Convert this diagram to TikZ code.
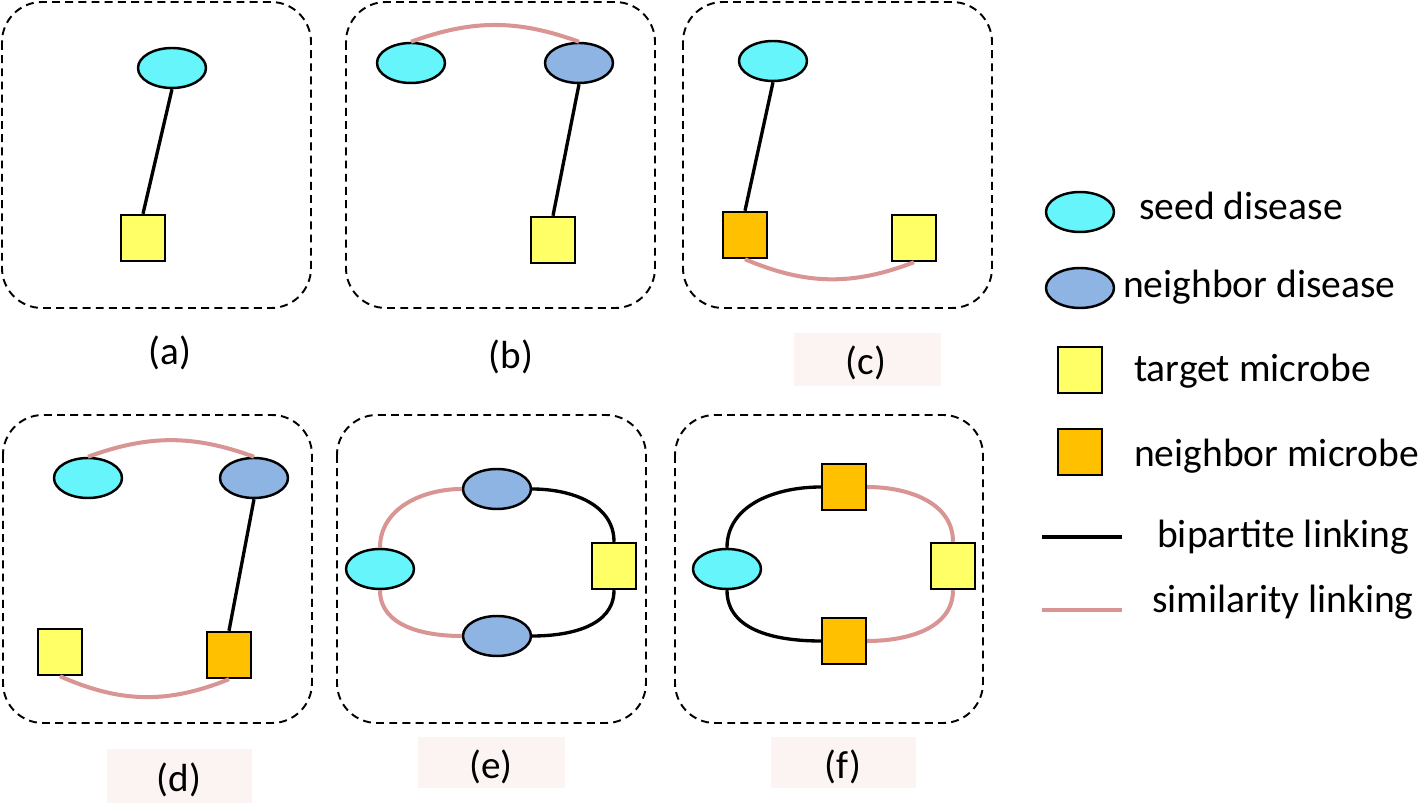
\documentclass[tikz,border=0pt]{standalone}
\usepackage{fontspec}
\setmainfont{Carlito}
\usetikzlibrary{shapes.geometric}

\definecolor{seedcol}{RGB}{102,245,250}
\definecolor{nbdcol}{RGB}{142,180,227}
\definecolor{tgtcol}{RGB}{255,255,102}
\definecolor{nbmcol}{RGB}{255,192,0}
\definecolor{simcol}{RGB}{217,149,148}
\definecolor{capbg}{RGB}{252,243,243}

\tikzset{
	seednode/.style={ellipse, draw, line width=1.4pt, fill=seedcol, minimum width=1.36cm, minimum height=0.8cm, inner sep=0pt},
	nbdnode/.style={seednode, fill=nbdcol},
	tgtnode/.style={rectangle, draw, line width=1.4pt, fill=tgtcol, minimum width=0.88cm, minimum height=0.92cm, inner sep=0pt},
	nbmnode/.style={tgtnode, fill=nbmcol},
	bip/.style={line width=1.9pt},
	sim/.style={line width=2.3pt, simcol},
	panel/.style={draw, dash pattern=on 4.5pt off 3pt, line width=1.1pt, rounded corners=0.8cm},
	captext/.style={font=\fontsize{22.3}{26}\selectfont},
	legtext/.style={anchor=base west, font=\fontsize{22.5}{26}\selectfont}
}

\begin{document}
\begin{tikzpicture}[x=0.02cm, y=-0.02cm]
	\useasboundingbox (0,0) rectangle (1418,803);
	% panels
	\draw[panel] (2,2) rectangle (311,308);
	\draw[panel] (346,2) rectangle (655,308);
	\draw[panel] (683,2) rectangle (992,308);
	\draw[panel] (3,415) rectangle (312,723);
	\draw[panel] (337,415) rectangle (646,723);
	\draw[panel] (675,415) rectangle (983,723);

	% (a)
	\node[seednode] (sa) at (172,68) {};
	\node[tgtnode] (ta) at (143,238) {};
	\draw[bip] (sa.south) -- (ta.north);

	% (b)
	\node[seednode] (sb) at (411,63) {};
	\node[nbdnode] (nb) at (579,63) {};
	\node[tgtnode] (tb) at (553,240) {};
	\draw[bip] (nb.south) -- (tb.north);
	\draw[sim] (sb.north) to[bend left=20] (nb.north);

	% (c)
	\node[seednode] (sc) at (773,61) {};
	\node[nbmnode] (mc) at (745,235) {};
	\node[tgtnode] (tc) at (914,238) {};
	\draw[bip] (sc.south) -- (mc.north);
	\draw[sim] (mc.south) to[bend right=22] (tc.south);

	% (d)
	\node[seednode] (sd) at (88,478) {};
	\node[nbdnode] (nd) at (254,478) {};
	\node[tgtnode] (td) at (60,652) {};
	\node[nbmnode] (md) at (229,655) {};
	\draw[bip] (nd.south) -- (md.north);
	\draw[sim] (sd.north) to[bend left=20] (nd.north);
	\draw[sim] (td.south) to[bend right=23] (md.south);

	% (e)
	\node[seednode] (se) at (380,569) {};
	\node[nbdnode] (ne1) at (497,489) {};
	\node[nbdnode] (ne2) at (497,636) {};
	\node[tgtnode] (te) at (614,566) {};
	\draw[sim] (se.north) to[out=90,in=180] (ne1.west);
	\draw[bip] (ne1.east) to[out=0,in=90] (te.north);
	\draw[bip] (te.south) to[out=-90,in=0] (ne2.east);
	\draw[sim] (ne2.west) to[out=180,in=-90] (se.south);

	% (f)
	\node[seednode] (sf) at (727,569) {};
	\node[nbmnode] (mf1) at (844,487) {};
	\node[nbmnode] (mf2) at (844,641) {};
	\node[tgtnode] (tf) at (953,566) {};
	\draw[bip] (sf.north) to[out=90,in=180] (mf1.west);
	\draw[sim] (mf1.east) to[out=0,in=90] (tf.north);
	\draw[sim] (tf.south) to[out=-90,in=0] (mf2.east);
	\draw[bip] (mf2.west) to[out=180,in=-90] (sf.south);

	% captions
	\fill[capbg] (794,333) rectangle (941,386);
	\fill[capbg] (107,749) rectangle (252,803);
	\fill[capbg] (418,737) rectangle (565,788);
	\fill[capbg] (771,737) rectangle (916,788);
	\node[captext] (capa) at (170,353) {(a)};
	\node[captext] (capb) at (511,357) {(b)};
	\node[captext] (capc) at (866,363) {(c)};
	\node[captext] (capd) at (179,780) {(d)};
	\node[captext] (cape) at (491,767) {(e)};
	\node[captext] (capf) at (843,767) {(f)};

	% legend
	\node[seednode] (lseed) at (1080,212) {};
	\node[nbdnode] (lnbd) at (1080,288) {};
	\node[tgtnode] (ltgt) at (1080,370) {};
	\node[nbmnode] (lnbm) at (1080,452) {};
	\coordinate (bipL) at (1042,537);
	\coordinate (bipR) at (1122,537);
	\coordinate (simL) at (1042,610);
	\coordinate (simR) at (1122,610);
	\draw[bip] (bipL) -- (bipR);
	\draw[sim] (simL) -- (simR);
	\node[legtext] (tseed) at (1133,220) {seed disease};
	\node[legtext] (tnbd) at (1117,298) {neighbor disease};
	\node[legtext] (ttgt) at (1128,382) {target microbe};
	\node[legtext] (tnbm) at (1128,467) {neighbor microbe};
	\node[legtext] (tbip) at (1151,548) {bipartite linking};
	\node[legtext] (tsim) at (1146,613) {similarity linking};
\end{tikzpicture}
\end{document}
